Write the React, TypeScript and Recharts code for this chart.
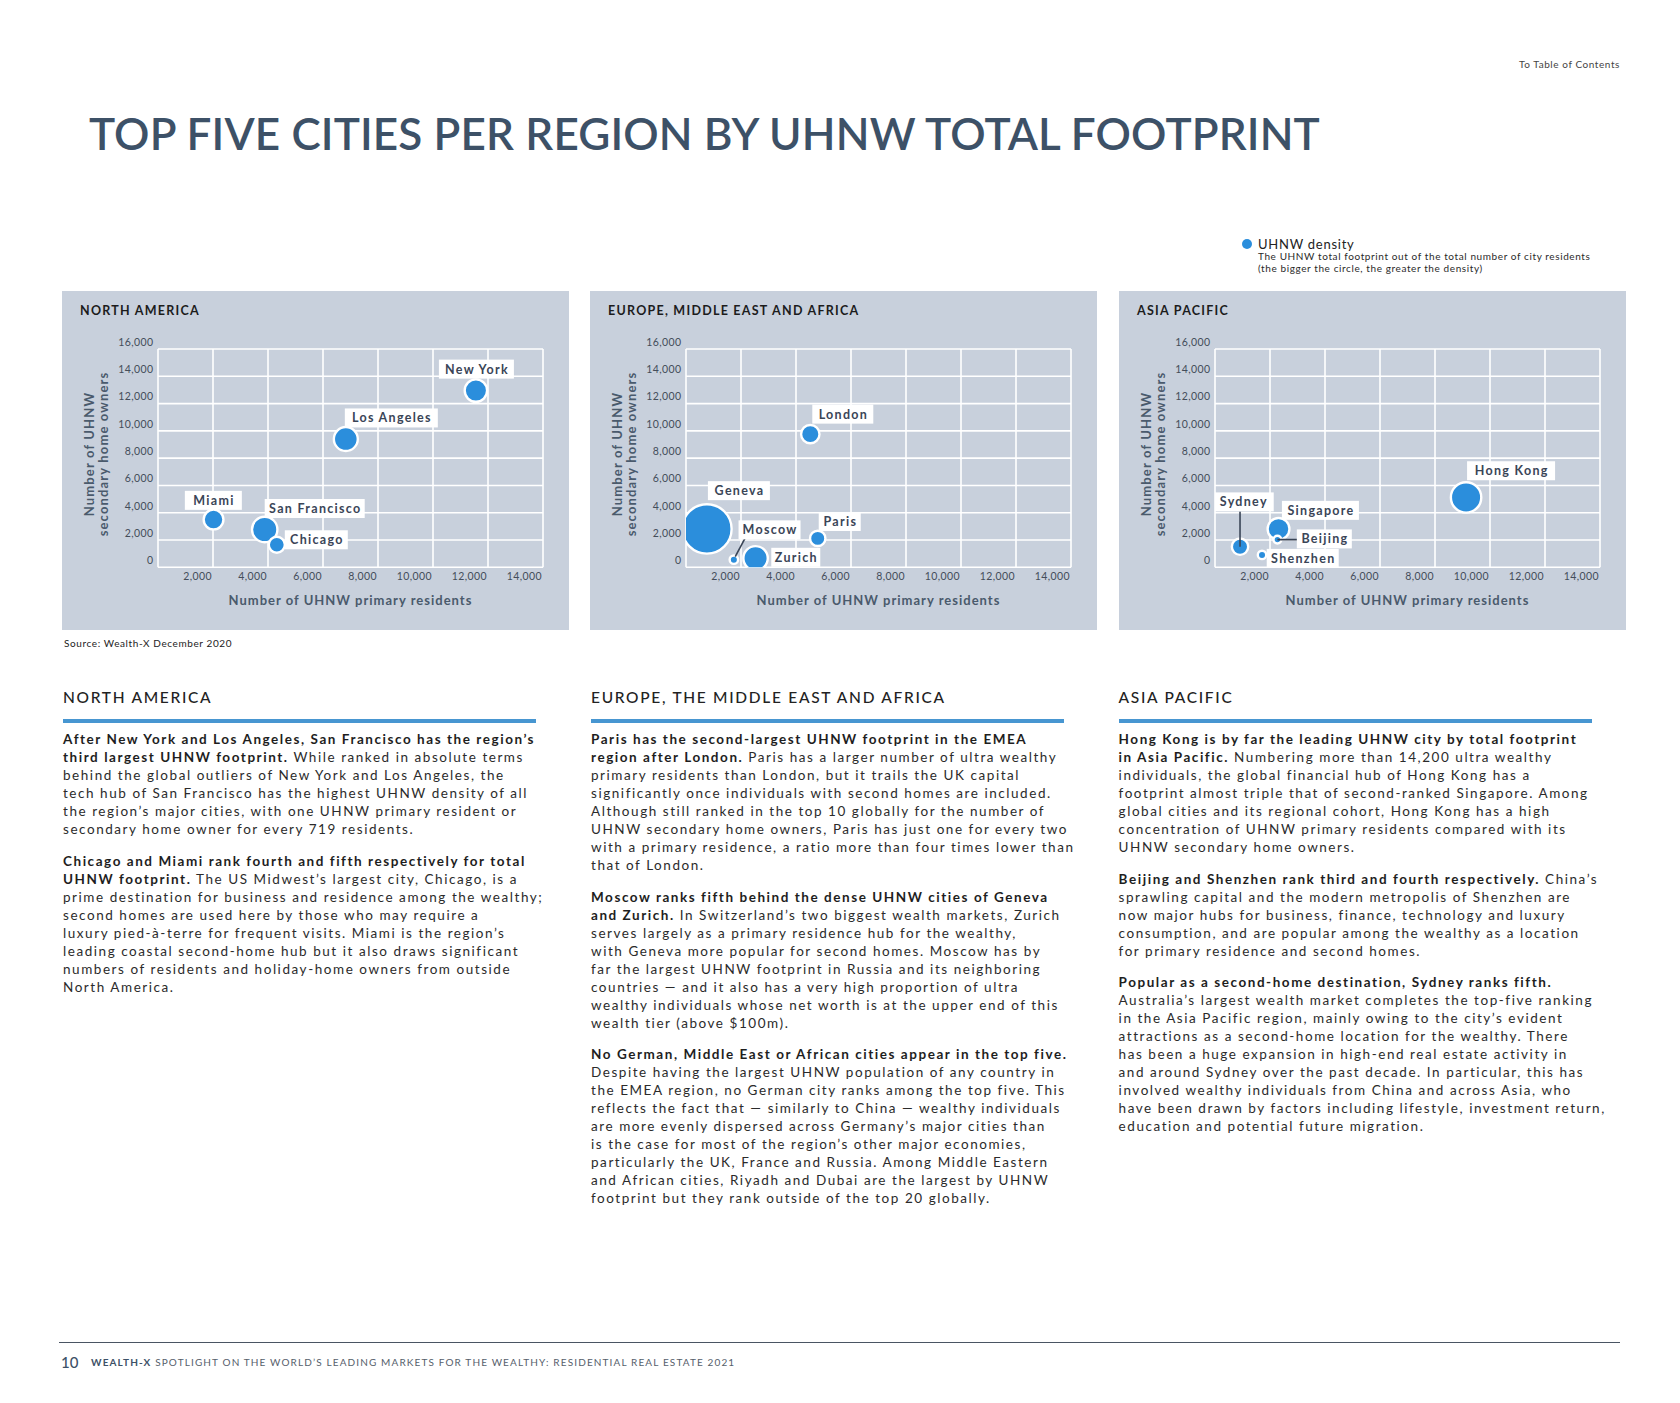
import React from 'react';
import { CartesianGrid, Scatter, ScatterChart, XAxis, YAxis, ZAxis } from 'recharts';

// shared axis ticks
const xTicks = [0, 2000, 4000, 6000, 8000, 10000, 12000, 14000];
const yTicks = [0, 2000, 4000, 6000, 8000, 10000, 12000, 14000, 16000];

// North America
const naCities = ['New York', 'Los Angeles', 'Miami', 'San Francisco', 'Chicago'];
const naPrimary = [11560, 6830, 2020, 3880, 4320];
const naSecondary = [12950, 9400, 3500, 2770, 1650];
const naDensity = [105, 122, 79, 139, 49];

// Europe, Middle East and Africa
const emeaCities = ['London', 'Geneva', 'Moscow', 'Zurich', 'Paris'];
const emeaPrimary = [4520, 760, 1740, 2530, 4790];
const emeaSecondary = [9760, 2810, 560, 660, 2120];
const emeaDensity = [67, 580, 9.5, 127, 44];

// Asia Pacific
const apacCities = ['Hong Kong', 'Sydney', 'Singapore', 'Beijing', 'Shenzhen'];
const apacPrimary = [9130, 910, 2310, 2270, 1710];
const apacSecondary = [5120, 1510, 2810, 2030, 910];
const apacDensity = [206, 51, 99, 7.7, 9.5];

const BLUE = '#2b8edc';
const PANEL = '#c8d0dc';
const SLATE = '#3d5167';
const LABEL = '#3a4557';
const FONT = 'Lato, "Noto Sans", sans-serif';

// label box offsets from each bubble centre
const labelBox: Record<string, { dx: number; dy: number; w: number; leader?: number[] }> = {
  'New York': { dx: -37, dy: -31, w: 75 },
  'Los Angeles': { dx: -1, dy: -30.6, w: 93 },
  Miami: { dx: -28.7, dy: -28.7, w: 57 },
  'San Francisco': { dx: 0, dy: -30.5, w: 100 },
  Chicago: { dx: 8, dy: -14.5, w: 63 },
  London: { dx: 2, dy: -29.5, w: 61 },
  Geneva: { dx: 1, dy: -47.8, w: 62 },
  Moscow: { dx: 4.7, dy: -39.3, w: 62, leader: [1.4, -3, 11, -21] },
  Zurich: { dx: 15.7, dy: -10.5, w: 49 },
  Paris: { dx: 1, dy: -26.4, w: 42 },
  'Hong Kong': { dx: 1, dy: -36.2, w: 88 },
  Sydney: { dx: -27.3, dy: -54.3, w: 61, leader: [0, -35.3, 0, 0] },
  Singapore: { dx: 3.4, dy: -28.1, w: 77 },
  Beijing: { dx: 19.4, dy: -10.2, w: 55, leader: [0, 0, 21, 0] },
  Shenzhen: { dx: 4.7, dy: -6, w: 72 },
};

const toRows = (cities: string[], px: number[], sy: number[], dz: number[]) =>
  cities.map((name, i) => ({ name, x: px[i], y: sy[i], z: dz[i] }));

const Bubble = (p: any) => {
  const r = (p.width ?? 0) / 2;
  return <circle cx={p.cx} cy={p.cy} r={r + 1.2} fill={BLUE} stroke="#fff" strokeWidth={2.4} />;
};

const CityLabel = (p: any) => {
  const name = p.payload?.name;
  const b = labelBox[name];
  if (!b) return null;
  const x = p.cx + b.dx;
  const y = p.cy + b.dy;
  return (
    <g>
      {b.leader && (
        <line
          x1={p.cx + b.leader[0]}
          y1={p.cy + b.leader[1]}
          x2={p.cx + b.leader[2]}
          y2={p.cy + b.leader[3]}
          stroke={LABEL}
          strokeWidth={1.6}
        />
      )}
      <rect x={x} y={y} width={b.w} height={19} fill="#fff" />
      <text
        x={x + b.w / 2 + 0.6}
        y={y + 14}
        textAnchor="middle"
        fontSize={12.5}
        fontWeight={700}
        letterSpacing={1.3}
        fill={LABEL}
        fontFamily={FONT}
      >
        {name}
      </text>
    </g>
  );
};

const XTick = (p: any) =>
  p.payload.value === 0 ? null : (
    <text x={p.x - 1} y={p.y + 12.2} textAnchor="end" fontSize={10.5} letterSpacing={0.4} fill="#444d5a" fontFamily={FONT}>
      {p.payload.value.toLocaleString('en-US')}
    </text>
  );

const YTick = (p: any) => (
  <text x={p.x - 4.5} y={p.y - 3.2} textAnchor="end" fontSize={10.5} letterSpacing={0.4} fill="#444d5a" fontFamily={FONT}>
    {p.payload.value.toLocaleString('en-US')}
  </text>
);

function RegionPanel({ title, rows, left }: { title: string; rows: any[]; left: number }) {
  return (
    <div style={{ position: 'absolute', left, top: 291, width: 507, height: 339, background: PANEL }}>
      <div style={{ position: 'absolute', left: 18, top: 12, fontSize: 12.5, lineHeight: '15px', fontWeight: 700, letterSpacing: 1.25, color: '#1c1c1c', whiteSpace: 'nowrap' }}>
        {title}
      </div>
      <ScatterChart width={507} height={339} margin={{ top: 58, right: 26, bottom: 42.7, left: 56 }}>
        <CartesianGrid stroke="#fff" strokeWidth={1.6} />
        <XAxis
          type="number"
          dataKey="x"
          domain={[0, 14000]}
          ticks={xTicks}
          interval={0}
          allowDataOverflow
          axisLine={false}
          tickLine={false}
          tickSize={0}
          tickMargin={0}
          height={20}
          tick={(p: any) => <XTick {...p} />}
        />
        <YAxis
          type="number"
          dataKey="y"
          domain={[0, 16000]}
          ticks={yTicks}
          interval={0}
          allowDataOverflow
          axisLine={false}
          tickLine={false}
          tickSize={0}
          tickMargin={0}
          width={40}
          tick={(p: any) => <YTick {...p} />}
        />
        <ZAxis type="number" dataKey="z" domain={[0, 600]} range={[0, 1795]} />
        <Scatter data={rows} shape={Bubble} isAnimationActive={false} />
        <Scatter data={rows} shape={CityLabel} isAnimationActive={false} />
      </ScatterChart>
      <div style={{ position: 'absolute', left: 96, width: 385, top: 301, textAlign: 'center', fontSize: 13, lineHeight: '16px', fontWeight: 700, letterSpacing: 1.0, color: '#4a5a6c', whiteSpace: 'nowrap' }}>
        Number of UHNW primary residents
      </div>
      <div
        style={{
          position: 'absolute',
          left: 34 - 100,
          top: 163 - 14,
          width: 200,
          height: 28,
          transform: 'rotate(-90deg)',
          textAlign: 'center',
          fontSize: 13,
          lineHeight: '14px',
          fontWeight: 700,
          letterSpacing: 1.15,
          color: '#4a5a6c',
          whiteSpace: 'nowrap',
        }}
      >
        Number of UHNW
        <br />
        secondary home owners
      </div>
    </div>
  );
}

// body copy, one entry per printed line; *...* marks bold
const naParas = [
  [
    '*After New York and Los Angeles, San Francisco has the region’s*',
    '*third largest UHNW footprint.* While ranked in absolute terms',
    'behind the global outliers of New York and Los Angeles, the',
    'tech hub of San Francisco has the highest UHNW density of all',
    'the region’s major cities, with one UHNW primary resident or',
    'secondary home owner for every 719 residents.',
  ],
  [
    '*Chicago and Miami rank fourth and fifth respectively for total*',
    '*UHNW footprint.* The US Midwest’s largest city, Chicago, is a',
    'prime destination for business and residence among the wealthy;',
    'second homes are used here by those who may require a',
    'luxury pied-à-terre for frequent visits. Miami is the region’s',
    'leading coastal second-home hub but it also draws significant',
    'numbers of residents and holiday-home owners from outside',
    'North America.',
  ],
];

const emeaParas = [
  [
    '*Paris has the second-largest UHNW footprint in the EMEA*',
    '*region after London.* Paris has a larger number of ultra wealthy',
    'primary residents than London, but it trails the UK capital',
    'significantly once individuals with second homes are included.',
    'Although still ranked in the top 10 globally for the number of',
    'UHNW secondary home owners, Paris has just one for every two',
    'with a primary residence, a ratio more than four times lower than',
    'that of London.',
  ],
  [
    '*Moscow ranks fifth behind the dense UHNW cities of Geneva*',
    '*and Zurich.* In Switzerland’s two biggest wealth markets, Zurich',
    'serves largely as a primary residence hub for the wealthy,',
    'with Geneva more popular for second homes. Moscow has by',
    'far the largest UHNW footprint in Russia and its neighboring',
    'countries — and it also has a very high proportion of ultra',
    'wealthy individuals whose net worth is at the upper end of this',
    'wealth tier (above $100m).',
  ],
  [
    '*No German, Middle East or African cities appear in the top five.*',
    'Despite having the largest UHNW population of any country in',
    'the EMEA region, no German city ranks among the top five. This',
    'reflects the fact that — similarly to China — wealthy individuals',
    'are more evenly dispersed across Germany’s major cities than',
    'is the case for most of the region’s other major economies,',
    'particularly the UK, France and Russia. Among Middle Eastern',
    'and African cities, Riyadh and Dubai are the largest by UHNW',
    'footprint but they rank outside of the top 20 globally.',
  ],
];

const apacParas = [
  [
    '*Hong Kong is by far the leading UHNW city by total footprint*',
    '*in Asia Pacific.* Numbering more than 14,200 ultra wealthy',
    'individuals, the global financial hub of Hong Kong has a',
    'footprint almost triple that of second-ranked Singapore. Among',
    'global cities and its regional cohort, Hong Kong has a high',
    'concentration of UHNW primary residents compared with its',
    'UHNW secondary home owners.',
  ],
  [
    '*Beijing and Shenzhen rank third and fourth respectively.* China’s',
    'sprawling capital and the modern metropolis of Shenzhen are',
    'now major hubs for business, finance, technology and luxury',
    'consumption, and are popular among the wealthy as a location',
    'for primary residence and second homes.',
  ],
  [
    '*Popular as a second-home destination, Sydney ranks fifth.*',
    'Australia’s largest wealth market completes the top-five ranking',
    'in the Asia Pacific region, mainly owing to the city’s evident',
    'attractions as a second-home location for the wealthy. There',
    'has been a huge expansion in high-end real estate activity in',
    'and around Sydney over the past decade. In particular, this has',
    'involved wealthy individuals from China and across Asia, who',
    'have been drawn by factors including lifestyle, investment return,',
    'education and potential future migration.',
  ],
];

const Line = ({ text }: { text: string }) => (
  <div style={{ height: 18, lineHeight: '18px', whiteSpace: 'nowrap' }}>
    {text.split('*').map((s, i) =>
      i % 2 ? (
        <b key={i} style={{ fontWeight: 700, color: '#1e1e1e' }}>
          {s}
        </b>
      ) : (
        <span key={i}>{s}</span>
      ),
    )}
  </div>
);

function TextColumn({ left, heading, paras }: { left: number; heading: string; paras: string[][] }) {
  return (
    <>
      <div style={{ position: 'absolute', left, top: 688, fontSize: 15.5, lineHeight: '19px', fontWeight: 500, letterSpacing: 1.7, color: '#222', whiteSpace: 'nowrap' }}>
        {heading}
      </div>
      <div style={{ position: 'absolute', left, top: 718.5, width: 473, height: 4, background: '#4796d1' }} />
      <div style={{ position: 'absolute', left, top: 730, fontSize: 13.5, letterSpacing: 1.55, color: '#2b2b2b' }}>
        {paras.map((p, i) => (
          <div key={i} style={{ marginBottom: 13.5 }}>
            {p.map((l, j) => (
              <Line key={j} text={l} />
            ))}
          </div>
        ))}
      </div>
    </>
  );
}

export default function App() {
  return (
    <div style={{ position: 'absolute', left: 0, top: 0, width: 1680, height: 1403, background: '#fff', overflow: 'hidden', fontFamily: FONT }}>
      <div style={{ position: 'absolute', right: 60, top: 58, fontSize: 10, lineHeight: '12px', color: '#444', letterSpacing: 0.57 }}>To Table of Contents</div>
      <div style={{ position: 'absolute', left: 89, top: 107, fontSize: 44, lineHeight: '52px', fontWeight: 600, color: SLATE, letterSpacing: 0.15, whiteSpace: 'nowrap' }}>
        TOP FIVE CITIES PER REGION BY UHNW TOTAL FOOTPRINT
      </div>

      {/* legend */}
      <div style={{ position: 'absolute', left: 1241.5, top: 239, width: 10, height: 10, borderRadius: 5, background: BLUE }} />
      <div style={{ position: 'absolute', left: 1258, top: 236, fontSize: 13, lineHeight: '16px', letterSpacing: 0.75, color: '#222', whiteSpace: 'nowrap' }}>UHNW density</div>
      <div style={{ position: 'absolute', left: 1258, top: 250, fontSize: 10, lineHeight: '12.4px', letterSpacing: 0.6, color: '#2a2a2a', whiteSpace: 'nowrap' }}>
        The UHNW total footprint out of the total number of city residents
        <br />
        (the bigger the circle, the greater the density)
      </div>

      <RegionPanel title="NORTH AMERICA" rows={toRows(naCities, naPrimary, naSecondary, naDensity)} left={62} />
      <RegionPanel title="EUROPE, MIDDLE EAST AND AFRICA" rows={toRows(emeaCities, emeaPrimary, emeaSecondary, emeaDensity)} left={590} />
      <RegionPanel title="ASIA PACIFIC" rows={toRows(apacCities, apacPrimary, apacSecondary, apacDensity)} left={1119} />

      <div style={{ position: 'absolute', left: 64, top: 637, fontSize: 10, lineHeight: '12px', letterSpacing: 0.6, color: '#222' }}>Source: Wealth-X December 2020</div>

      <TextColumn left={63} heading="NORTH AMERICA" paras={naParas} />
      <TextColumn left={591} heading="EUROPE, THE MIDDLE EAST AND AFRICA" paras={emeaParas} />
      <TextColumn left={1118.6} heading="ASIA PACIFIC" paras={apacParas} />

      {/* footer */}
      <div style={{ position: 'absolute', left: 59, top: 1341.5, width: 1561, height: 1.5, background: '#4a5563' }} />
      <div style={{ position: 'absolute', left: 61, top: 1353, fontSize: 15, lineHeight: '18px', fontWeight: 500, color: SLATE }}>10</div>
      <div style={{ position: 'absolute', left: 91, top: 1356, fontSize: 10, lineHeight: '12px', letterSpacing: 1.13, color: '#56606b', whiteSpace: 'nowrap' }}>
        <b style={{ color: SLATE }}>WEALTH-X</b> SPOTLIGHT ON THE WORLD’S LEADING MARKETS FOR THE WEALTHY: RESIDENTIAL REAL ESTATE 2021
      </div>
    </div>
  );
}
